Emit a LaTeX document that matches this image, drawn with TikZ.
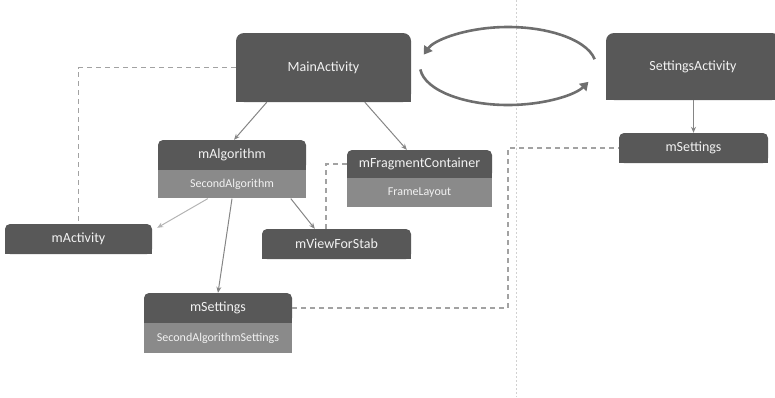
\documentclass[tikz,border=0pt]{standalone}
\usepackage{fontspec}
\setmainfont{Carlito}
\usetikzlibrary{arrows.meta,calc}
\definecolor{hdr}{HTML}{585858}
\definecolor{band}{HTML}{8A8A8A}
\definecolor{txt}{HTML}{F2F2F2}
\definecolor{conn}{HTML}{858585}
\definecolor{connlight}{HTML}{B4B4B4}
\definecolor{dashc}{HTML}{A2A2A2}
\definecolor{cyc}{HTML}{6E6E6E}
\tikzset{
  hbox/.style={draw=none, fill=hdr, text=txt, rounded corners=5pt, inner sep=0pt,
    font=\fontsize{14}{16}\selectfont},
  bbox/.style={draw=none, fill=band, text=txt, inner sep=0pt,
    font=\fontsize{12}{14}\selectfont},
  conn/.style={draw=conn, line width=1pt, -{Stealth[length=6pt,width=5pt]}},
  connl/.style={draw=connlight, line width=1pt, -{Stealth[length=6pt,width=5pt]}},
  dashline/.style={draw=dashc, line width=1.4pt, dash pattern=on 5pt off 4pt},
  cycarrow/.style={draw=cyc, line width=2.6pt, -{Triangle[length=8pt,width=10pt]}},
}
\newcommand{\squarebottom}[1]{\fill[hdr] (#1.south west) rectangle ([yshift=6pt]#1.south east);}
\begin{document}
\begin{tikzpicture}[x=1pt,y=-1pt]
\useasboundingbox (0,0) rectangle (775,397);
% separator
\coordinate (vtop) at (516,0);
\coordinate (vbot) at (516,397);
\draw[draw=black!18, line width=1pt, dash pattern=on 2pt off 2pt] (vtop) -- (vbot);

% nodes
\node[hbox, minimum width=175pt, minimum height=69pt, rounded corners=8pt] (ma) at (323.5,67.5) {MainActivity};
\fill[hdr] (ma.south west) rectangle ([yshift=9pt]ma.south east);
\node[hbox, minimum width=174pt, minimum height=67pt, rounded corners=8pt] (sa) at (693,66.5) {SettingsActivity};
\fill[hdr] (sa.south west) rectangle ([yshift=9pt]sa.south east);
\node[hbox, minimum width=149pt, minimum height=30pt] (ms2) at (693.5,148) {mSettings};
\squarebottom{ms2}

\node[hbox, minimum width=148pt, minimum height=30pt] (alg) at (232,155) {mAlgorithm};
\squarebottom{alg}
\node[bbox, minimum width=148pt, minimum height=28pt, anchor=north] (alg2) at (alg.south) {SecondAlgorithm};

\node[hbox, minimum width=145pt, minimum height=28pt] (frag) at (419.5,164) {mFragmentContainer};
\squarebottom{frag}
\node[bbox, minimum width=145pt, minimum height=29pt, anchor=north] (frag2) at (frag.south) {FrameLayout};

\node[hbox, minimum width=147pt, minimum height=30pt] (mact) at (78.5,239) {mActivity};
\squarebottom{mact}
\node[hbox, minimum width=149pt, minimum height=30pt] (mvfs) at (336.5,244) {mViewForStab};
\squarebottom{mvfs}

\node[hbox, minimum width=148pt, minimum height=30pt] (ms1) at (218,308) {mSettings};
\squarebottom{ms1}
\node[bbox, minimum width=148pt, minimum height=30pt, anchor=north] (ms1b) at (ms1.south) {SecondAlgorithmSettings};

% connectors
\draw[conn] ($(ma.south west)+(31,0)$) -- ($(alg.north)+(2,0)$);
\draw[conn] ($(ma.south west)+(129,0)$) -- ($(frag.north west)+(60,0)$);
\draw[connl] ($(alg2.south west)+(50,0)$) -- ($(mact.north east)+(5,4)$);
\draw[conn] (alg2.south) -- (ms1.north);
\draw[conn] ($(alg2.south west)+(133,0)$) -- ($(mvfs.north west)+(53,0)$);
\draw[conn] (sa.south -| ms2.north) -- (ms2.north);

% dashed
\draw[dashline] (ma.west) -| (mact.north);
\coordinate (fx) at (326,0);
\draw[dashline] (frag.west) -| (fx |- mvfs.north);
\coordinate (bx) at (508,0);
\draw[dashline] (ms1.east) -| (bx |- ms2.west) -- (ms2.west);

% cycle
\coordinate (cc) at (508,66);
\draw[cycarrow] ($(cc)+({88*cos(-10)},{39*sin(-10)})$) arc[start angle=-10, end angle=-163, x radius=88, y radius=39];
\draw[cycarrow] ($(cc)+({88*cos(-185)},{39*sin(-185)})$) arc[start angle=-185, end angle=-336, x radius=88, y radius=39];
\end{tikzpicture}
\end{document}
